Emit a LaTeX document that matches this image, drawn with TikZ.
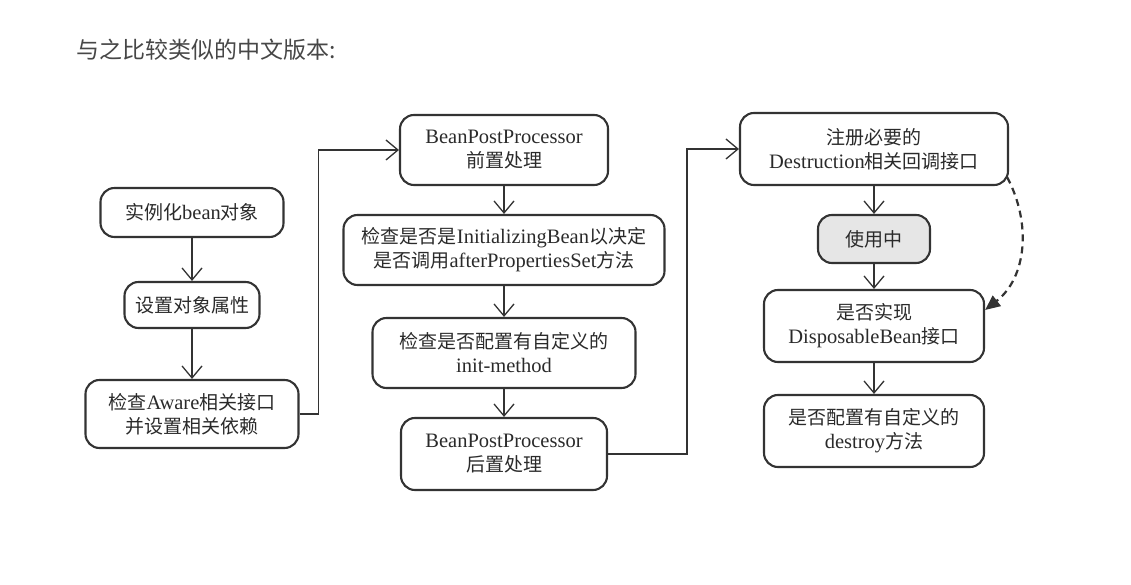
\documentclass[tikz,border=0pt]{standalone}
\usepackage{fontspec}
\setmainfont{Liberation Serif}
\newfontfamily\cjkfont{Noto Sans CJK SC}
\newcommand\zhs[1]{{\cjkfont\fontsize{19}{24}\selectfont #1}}
\usetikzlibrary{arrows.meta,calc}
\definecolor{txt}{HTML}{2A2A2A}
\definecolor{ln}{HTML}{333333}
\definecolor{usefill}{HTML}{E6E6E6}
\begin{document}
\begin{tikzpicture}[x=1pt,y=1pt,
  box/.style={draw=ln, line width=2.1pt, rounded corners=14pt, text=txt, align=center,
    inner sep=0pt, font=\fontsize{20.5}{24}\selectfont},
  conn/.style={draw=ln, line width=1.3pt, -{Straight Barb[length=12pt,width=20pt,line width=1.3pt]}},
  dashconn/.style={draw=ln, line width=2.2pt, dash pattern=on 7pt off 5pt, -{Triangle[length=15pt,width=13pt]}}
]
\useasboundingbox (0,0) rectangle (1131,584);
\node[anchor=west, text=black!72, font=\cjkfont\fontsize{23}{27}\selectfont] (title) at (73,534) {与之比较类似的中文版本:};
% left column
\node[box, minimum width=183pt, minimum height=49pt] (b1) at (192,371.5) {\zhs{实例化}bean\zhs{对象}};
\node[box, minimum width=135pt, minimum height=46pt] (b2) at (192,279) {\zhs{设置对象属性}};
\node[box, minimum width=213pt, minimum height=68pt] (b3) at (192,170) {\zhs{检查}Aware\zhs{相关接口}\\\zhs{并设置相关依赖}};
% middle column
\node[box, minimum width=208pt, minimum height=70pt] (b4) at (504,434) {BeanPostProcessor\\\zhs{前置处理}};
\node[box, minimum width=321pt, minimum height=70pt] (b5) at (504,334) {\zhs{检查是否是}InitializingBean\zhs{以决定}\\\zhs{是否调用}afterPropertiesSet\zhs{方法}};
\node[box, minimum width=263pt, minimum height=70pt] (b6) at (504,231) {\zhs{检查是否配置有自定义的}\\init-method};
\node[box, minimum width=206pt, minimum height=72pt] (b7) at (504,130) {BeanPostProcessor\\\zhs{后置处理}};
% right column
\node[box, minimum width=268pt, minimum height=72pt] (b8) at (874,435) {\zhs{注册必要的}\\Destruction\zhs{相关回调接口}};
\node[box, fill=usefill, minimum width=112pt, minimum height=48pt] (b9) at (874,345) {\zhs{使用中}};
\node[box, minimum width=220pt, minimum height=72pt] (b10) at (874,258) {\zhs{是否实现}\\DisposableBean\zhs{接口}};
\node[box, minimum width=220pt, minimum height=72pt] (b11) at (874,153) {\zhs{是否配置有自定义的}\\destroy\zhs{方法}};
% connectors
\draw[conn] (b1) -- (b2);
\draw[conn] (b2) -- (b3);
\draw[conn] (b3.east) -- ++(19,0) |- (b4.west);
\draw[conn] (b4) -- (b5);
\draw[conn] (b5) -- (b6);
\draw[conn] (b6) -- (b7);
\draw[conn] (b7.east) -- ++(79,0) |- (b8.west);
\draw[conn] (b8) -- (b9);
\draw[conn] (b9) -- (b10);
\draw[conn] (b10) -- (b11);
\coordinate (ds) at ($(b8.south east)+(-2,9)$);
\coordinate (de) at ($(b10.east)+(0,16)$);
\draw[dashconn] (ds) to[out=-62, in=38] (de);
\end{tikzpicture}
\end{document}
